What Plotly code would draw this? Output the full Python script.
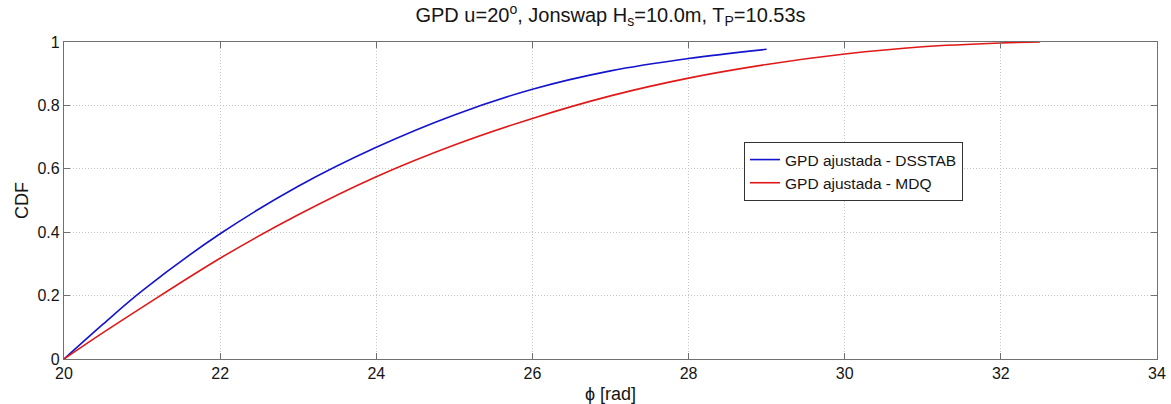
import plotly.graph_objects as go

# GPD fitted CDFs (phi in rad)
phi_dsstab = [20.0, 20.5, 21.0, 22.0, 23.0, 24.0, 25.0, 26.0, 27.0, 28.0, 29.0]
cdf_dsstab = [0.0, 0.11, 0.215, 0.395, 0.545, 0.668, 0.77, 0.851, 0.909, 0.948, 0.977]

phi_mdq = [20.0, 20.5, 21.0, 22.0, 23.0, 24.0, 25.0, 26.0, 27.0, 28.0, 29.0, 30.0, 31.0, 32.0, 32.5]
cdf_mdq = [0.0, 0.083, 0.163, 0.318, 0.455, 0.575, 0.675, 0.759, 0.830, 0.886, 0.929, 0.962, 0.985, 0.997, 1.0]

x_ticks = [20, 22, 24, 26, 28, 30, 32, 34]
y_ticks = [0, 0.2, 0.4, 0.6, 0.8, 1]

FONT = "Liberation Sans, Arial, sans-serif"
AXIS_COLOR = "#707070"
TEXT_COLOR = "#151515"

fig = go.Figure()
fig.add_trace(go.Scatter(
    x=phi_dsstab, y=cdf_dsstab, mode="lines", line_shape="spline",
    name="GPD ajustada - DSSTAB", line=dict(color="#1414cc", width=1.6),
))
fig.add_trace(go.Scatter(
    x=phi_mdq, y=cdf_mdq, mode="lines", line_shape="spline",
    name="GPD ajustada - MDQ", line=dict(color="#e01818", width=1.6),
))

axis_common = dict(
    showline=True, linecolor=AXIS_COLOR, linewidth=1.2, mirror="ticks",
    ticks="inside", ticklen=6, tickcolor=AXIS_COLOR, tickwidth=1,
    showgrid=True, gridcolor="#c4c4c4", griddash="1px,2px", gridwidth=1,
    zeroline=False, automargin=False,
    tickfont=dict(family=FONT, size=16, color=TEXT_COLOR),
)

fig.update_layout(
    width=1171, height=404,
    margin=dict(l=64, r=14, t=42, b=45, autoexpand=False),
    paper_bgcolor="white", plot_bgcolor="white",
    font=dict(family=FONT, size=16, color=TEXT_COLOR),
    title=dict(
        text="GPD u=20<sup>o</sup>, Jonswap H<sub>s</sub>=10.0m, T<sub>P</sub>=10.53s",
        x=0.5, xref="paper", xanchor="center",
        y=1 - 15 / 404, yref="container", yanchor="middle",
        font=dict(family=FONT, size=20, color=TEXT_COLOR),
    ),
    xaxis=dict(
        range=[20, 34], tickvals=x_ticks, ticktext=[str(v) for v in x_ticks],
        title=dict(text="ϕ [rad]", standoff=8, font=dict(family=FONT, size=18)),
        **axis_common,
    ),
    yaxis=dict(
        range=[0, 1], tickvals=y_ticks, ticktext=["0", "0.2", "0.4", "0.6", "0.8", "1"],
        title=dict(text="CDF", standoff=4, font=dict(family=FONT, size=18)),
        **axis_common,
    ),
    legend=dict(
        x=(744 - 64) / 1093, y=(359 - 142) / 317, xanchor="left", yanchor="top",
        bgcolor="white", bordercolor="#333333", borderwidth=1,
        font=dict(family=FONT, size=15.5, color=TEXT_COLOR),
        tracegroupgap=0, itemwidth=30,
    ),
    showlegend=True,
)

fig.write_html("out.html")
